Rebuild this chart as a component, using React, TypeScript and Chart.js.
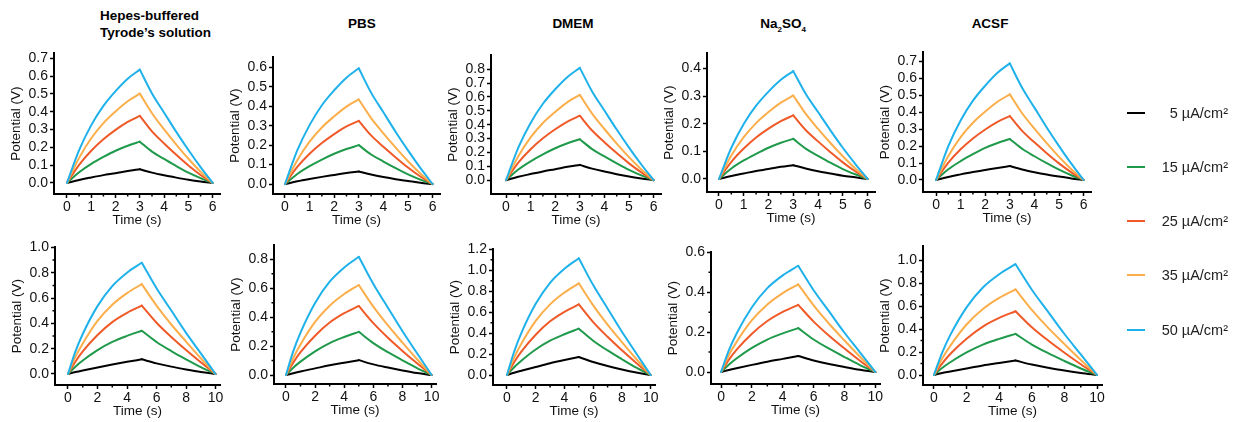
import React, { useEffect, useRef } from 'react';
import { Chart, registerables } from 'chart.js';
Chart.register(...registerables);

const FONT = "'Liberation Sans', Arial, sans-serif";

const seriesLabels = ['5 µA/cm²', '15 µA/cm²', '25 µA/cm²', '35 µA/cm²', '50 µA/cm²'];
const seriesColors = ['#000000', '#1f9a4b', '#f05a28', '#fbae4a', '#1eb1ea'];

const columnTitles = ['Hepes-buffered Tyrode’s solution', 'PBS', 'DMEM', 'Na2SO4', 'ACSF'];

// time axes (s)
const timeShort = [0, 0.5, 1, 1.5, 2, 2.5, 3, 3.5, 4, 4.5, 5, 5.5, 6];
const timeLong = [0, 0.5, 1, 2, 3, 4, 5, 6, 7, 8, 9, 10];

const xTicksShort = [0, 1, 2, 3, 4, 5, 6];
const xMinorShort = [0.5, 1.5, 2.5, 3.5, 4.5, 5.5];
const xTicksLong = [0, 2, 4, 6, 8, 10];
const xMinorLong = [1, 3, 5, 7, 9];

// potentials (V), series order: 5, 15, 25, 35, 50 µA/cm²
const hepesTop = [
  [0, 0.017, 0.031, 0.044, 0.055, 0.067, 0.077, 0.058, 0.043, 0.030, 0.018, 0.008, 0],
  [0, 0.060, 0.107, 0.146, 0.181, 0.209, 0.232, 0.176, 0.135, 0.095, 0.058, 0.027, 0],
  [0, 0.102, 0.181, 0.245, 0.298, 0.343, 0.377, 0.290, 0.222, 0.158, 0.098, 0.045, 0],
  [0, 0.141, 0.251, 0.336, 0.402, 0.459, 0.502, 0.392, 0.301, 0.216, 0.136, 0.063, 0],
  [0, 0.185, 0.325, 0.433, 0.516, 0.586, 0.637, 0.503, 0.395, 0.287, 0.185, 0.089, 0],
];
const pbsTop = [
  [0, 0.014, 0.026, 0.037, 0.047, 0.057, 0.065, 0.049, 0.036, 0.025, 0.016, 0.007, 0],
  [0, 0.052, 0.092, 0.126, 0.156, 0.180, 0.200, 0.152, 0.116, 0.082, 0.050, 0.023, 0],
  [0, 0.088, 0.156, 0.211, 0.257, 0.296, 0.325, 0.250, 0.192, 0.137, 0.085, 0.039, 0],
  [0, 0.122, 0.218, 0.291, 0.348, 0.398, 0.435, 0.339, 0.261, 0.187, 0.117, 0.054, 0],
  [0, 0.173, 0.303, 0.405, 0.482, 0.547, 0.595, 0.470, 0.369, 0.268, 0.173, 0.083, 0],
];
const dmemTop = [
  [0, 0.024, 0.044, 0.063, 0.079, 0.096, 0.110, 0.083, 0.062, 0.043, 0.026, 0.012, 0],
  [0, 0.077, 0.136, 0.186, 0.230, 0.266, 0.295, 0.224, 0.171, 0.121, 0.074, 0.034, 0],
  [0, 0.126, 0.223, 0.302, 0.367, 0.423, 0.465, 0.358, 0.274, 0.195, 0.121, 0.056, 0],
  [0, 0.172, 0.308, 0.412, 0.492, 0.563, 0.615, 0.480, 0.369, 0.264, 0.166, 0.077, 0],
  [0, 0.235, 0.413, 0.551, 0.656, 0.745, 0.810, 0.640, 0.502, 0.365, 0.235, 0.113, 0],
];
const naTop = [
  [0, 0.011, 0.020, 0.029, 0.036, 0.044, 0.050, 0.038, 0.028, 0.020, 0.012, 0.006, 0],
  [0, 0.038, 0.067, 0.091, 0.113, 0.131, 0.145, 0.110, 0.084, 0.059, 0.036, 0.017, 0],
  [0, 0.062, 0.110, 0.150, 0.182, 0.209, 0.230, 0.177, 0.136, 0.097, 0.060, 0.028, 0],
  [0, 0.085, 0.151, 0.202, 0.242, 0.276, 0.302, 0.236, 0.181, 0.130, 0.082, 0.038, 0],
  [0, 0.113, 0.199, 0.265, 0.316, 0.359, 0.390, 0.308, 0.242, 0.176, 0.113, 0.055, 0],
];
const acsfTop = [
  [0, 0.018, 0.033, 0.047, 0.059, 0.071, 0.082, 0.062, 0.046, 0.032, 0.020, 0.009, 0],
  [0, 0.063, 0.111, 0.152, 0.189, 0.218, 0.242, 0.184, 0.140, 0.099, 0.061, 0.028, 0],
  [0, 0.102, 0.181, 0.245, 0.298, 0.343, 0.377, 0.290, 0.222, 0.158, 0.098, 0.045, 0],
  [0, 0.141, 0.253, 0.338, 0.404, 0.462, 0.505, 0.394, 0.303, 0.217, 0.136, 0.063, 0],
  [0, 0.200, 0.351, 0.468, 0.557, 0.633, 0.688, 0.544, 0.427, 0.310, 0.200, 0.096, 0],
];
const hepesBottom = [
  [0, 0.015, 0.028, 0.052, 0.075, 0.096, 0.116, 0.084, 0.058, 0.036, 0.016, 0],
  [0, 0.058, 0.106, 0.188, 0.253, 0.301, 0.342, 0.253, 0.181, 0.116, 0.055, 0],
  [0, 0.097, 0.178, 0.308, 0.410, 0.483, 0.540, 0.405, 0.292, 0.189, 0.092, 0],
  [0, 0.135, 0.241, 0.419, 0.547, 0.639, 0.710, 0.540, 0.391, 0.256, 0.124, 0],
  [0, 0.176, 0.316, 0.536, 0.694, 0.800, 0.879, 0.677, 0.501, 0.325, 0.163, 0],
];
const pbsBottom = [
  [0, 0.013, 0.025, 0.046, 0.067, 0.085, 0.103, 0.074, 0.052, 0.032, 0.014, 0],
  [0, 0.051, 0.093, 0.164, 0.221, 0.263, 0.299, 0.221, 0.158, 0.102, 0.048, 0],
  [0, 0.086, 0.158, 0.272, 0.363, 0.428, 0.478, 0.359, 0.258, 0.167, 0.081, 0],
  [0, 0.118, 0.212, 0.368, 0.480, 0.561, 0.623, 0.473, 0.343, 0.224, 0.109, 0],
  [0, 0.164, 0.294, 0.499, 0.646, 0.744, 0.818, 0.630, 0.466, 0.303, 0.151, 0],
];
const dmemBottom = [
  [0, 0.022, 0.041, 0.077, 0.112, 0.143, 0.172, 0.124, 0.086, 0.053, 0.024, 0],
  [0, 0.075, 0.137, 0.244, 0.328, 0.390, 0.443, 0.328, 0.235, 0.151, 0.071, 0],
  [0, 0.122, 0.223, 0.385, 0.513, 0.604, 0.675, 0.506, 0.365, 0.236, 0.115, 0],
  [0, 0.166, 0.298, 0.517, 0.675, 0.788, 0.876, 0.666, 0.482, 0.315, 0.153, 0],
  [0, 0.223, 0.401, 0.680, 0.881, 1.015, 1.115, 0.859, 0.636, 0.413, 0.206, 0],
];
const naBottom = [
  [0, 0.010, 0.019, 0.036, 0.052, 0.066, 0.080, 0.058, 0.040, 0.025, 0.011, 0],
  [0, 0.037, 0.068, 0.121, 0.163, 0.194, 0.220, 0.163, 0.117, 0.075, 0.035, 0],
  [0, 0.061, 0.111, 0.192, 0.256, 0.302, 0.337, 0.253, 0.182, 0.118, 0.057, 0],
  [0, 0.084, 0.150, 0.260, 0.339, 0.396, 0.440, 0.334, 0.242, 0.158, 0.077, 0],
  [0, 0.107, 0.192, 0.325, 0.421, 0.485, 0.533, 0.410, 0.304, 0.197, 0.099, 0],
];
const acsfBottom = [
  [0, 0.017, 0.030, 0.057, 0.083, 0.105, 0.127, 0.091, 0.064, 0.039, 0.018, 0],
  [0, 0.061, 0.111, 0.197, 0.265, 0.315, 0.358, 0.265, 0.190, 0.122, 0.057, 0],
  [0, 0.100, 0.183, 0.316, 0.422, 0.497, 0.555, 0.416, 0.300, 0.194, 0.094, 0],
  [0, 0.142, 0.254, 0.440, 0.574, 0.671, 0.746, 0.567, 0.410, 0.269, 0.131, 0],
  [0, 0.193, 0.347, 0.589, 0.762, 0.878, 0.965, 0.743, 0.550, 0.357, 0.179, 0],
];

// y tick labels per panel
const yTicks1 = [0, 0.1, 0.2, 0.3, 0.4, 0.5, 0.6, 0.7];
const yTicks2 = [0, 0.1, 0.2, 0.3, 0.4, 0.5, 0.6];
const yTicks3 = [0, 0.1, 0.2, 0.3, 0.4, 0.5, 0.6, 0.7, 0.8];
const yTicks4 = [0, 0.1, 0.2, 0.3, 0.4];
const yTicks5 = [0, 0.1, 0.2, 0.3, 0.4, 0.5, 0.6, 0.7];
const yTicks6 = [0, 0.2, 0.4, 0.6, 0.8, 1.0];
const yTicks7 = [0, 0.2, 0.4, 0.6, 0.8];
const yTicks8 = [0, 0.2, 0.4, 0.6, 0.8, 1.0, 1.2];
const yTicks9 = [0, 0.2, 0.4, 0.6];
const yTicks10 = [0, 0.2, 0.4, 0.6, 0.8, 1.0];
const yMinor6 = [0.1, 0.3, 0.5, 0.7, 0.9];
const yMinor7 = [0.1, 0.3, 0.5, 0.7];
const yMinor8 = [0.1, 0.3, 0.5, 0.7, 0.9, 1.1];
const yMinor9 = [0.1, 0.3, 0.5];
const yMinor10 = [0.1, 0.3, 0.5, 0.7, 0.9];

// axis ranges [xmin, xmax, ymin, ymax]
const ranges = [
  [-0.534, 6.3, -0.062, 0.728],
  [-0.486, 6.3, -0.051, 0.651],
  [-0.61, 6.3, -0.1, 0.9],
  [-0.483, 6.3, -0.047, 0.454],
  [-0.53, 6.3, -0.071, 0.753],
  [-0.88, 10.3, -0.087, 1.0],
  [-0.82, 10.3, -0.062, 0.897],
  [-0.97, 10.3, -0.095, 1.2],
  [-0.65, 10.3, -0.06, 0.6],
  [-0.67, 10.3, -0.087, 1.12],
];

// layout: plot-area boxes [left, top, right, bottom] in page px
const boxes = [
  [54, 53, 220, 194],
  [273, 57, 440, 194],
  [491, 55, 661, 194],
  [707, 53, 875, 192],
  [923, 52, 1091, 192],
  [55, 247, 220, 385],
  [274, 245, 436, 384],
  [493, 249, 655, 385],
  [711, 252, 880, 384],
  [923, 246, 1102, 385],
];

const panels = [
  { time: timeShort, values: hepesTop, xTicks: xTicksShort, xMinor: xMinorShort, yTicks: yTicks1, yMinor: [] as number[] },
  { time: timeShort, values: pbsTop, xTicks: xTicksShort, xMinor: xMinorShort, yTicks: yTicks2, yMinor: [] as number[] },
  { time: timeShort, values: dmemTop, xTicks: xTicksShort, xMinor: xMinorShort, yTicks: yTicks3, yMinor: [] as number[] },
  { time: timeShort, values: naTop, xTicks: xTicksShort, xMinor: xMinorShort, yTicks: yTicks4, yMinor: [] as number[] },
  { time: timeShort, values: acsfTop, xTicks: xTicksShort, xMinor: xMinorShort, yTicks: yTicks5, yMinor: [] as number[] },
  { time: timeLong, values: hepesBottom, xTicks: xTicksLong, xMinor: xMinorLong, yTicks: yTicks6, yMinor: yMinor6 },
  { time: timeLong, values: pbsBottom, xTicks: xTicksLong, xMinor: xMinorLong, yTicks: yTicks7, yMinor: yMinor7 },
  { time: timeLong, values: dmemBottom, xTicks: xTicksLong, xMinor: xMinorLong, yTicks: yTicks8, yMinor: yMinor8 },
  { time: timeLong, values: naBottom, xTicks: xTicksLong, xMinor: xMinorLong, yTicks: yTicks9, yMinor: yMinor9 },
  { time: timeLong, values: acsfBottom, xTicks: xTicksLong, xMinor: xMinorLong, yTicks: yTicks10, yMinor: yMinor10 },
];

const Y_W = 46;
const X_H = 34;
const PAD_T = 10;
const PAD_R = 14;

const minorTickPlugin = {
  id: 'minorTicks',
  afterDraw(chart: any, _args: any, opts: any) {
    const { ctx } = chart;
    const xs = chart.scales.x;
    const ys = chart.scales.y;
    ctx.save();
    ctx.strokeStyle = '#000';
    ctx.lineWidth = 1.5;
    ctx.beginPath();
    (opts.x || []).forEach((v: number) => {
      const p = xs.getPixelForValue(v);
      ctx.moveTo(p, xs.top);
      ctx.lineTo(p, xs.top + 2.5);
    });
    (opts.y || []).forEach((v: number) => {
      const p = ys.getPixelForValue(v);
      ctx.moveTo(ys.right, p);
      ctx.lineTo(ys.right - 2.5, p);
    });
    ctx.stroke();
    ctx.restore();
  },
};

function Panel({ idx }: { idx: number }) {
  const ref = useRef<HTMLCanvasElement>(null);
  const p = panels[idx];
  const [l, t, r, b] = boxes[idx];
  const w = Y_W + (r - l) + PAD_R;
  const h = PAD_T + (b - t) + X_H;
  useEffect(() => {
    const [xmin, xmax, ymin, ymax] = ranges[idx];
    const datasets: any[] = [];
    p.values.forEach((vals, si) => {
      const pts = p.time.map((tt, i) => ({ x: tt, y: vals[i] }));
      let pk = 0;
      vals.forEach((v, i) => { if (v > vals[pk]) pk = i; });
      // charging branch and discharging branch, joined at the peak (kept sharp)
      [pts.slice(0, pk + 1), pts.slice(pk)].forEach((seg, k) => {
        datasets.push({
          label: seriesLabels[si] + (k ? ' discharge' : ' charge'),
          data: seg,
          borderColor: seriesColors[si],
          backgroundColor: seriesColors[si],
          borderWidth: 2,
          borderCapStyle: 'round',
          borderJoinStyle: 'round',
          pointRadius: 0,
          cubicInterpolationMode: 'monotone',
          fill: false,
          order: 5 - si,
        });
      });
    });
    const chart = new Chart(ref.current as HTMLCanvasElement, {
      type: 'line',
      data: { datasets },
      plugins: [minorTickPlugin],
      options: {
        animation: false,
        responsive: false,
        devicePixelRatio: 1,
        layout: { padding: { top: PAD_T, right: PAD_R, left: 0, bottom: 0 } },
        plugins: {
          legend: { display: false },
          tooltip: { enabled: false },
          minorTicks: { x: p.xMinor, y: p.yMinor },
        } as any,
        scales: {
          x: {
            type: 'linear',
            min: xmin,
            max: xmax,
            afterFit: (s: any) => { s.height = X_H; },
            afterBuildTicks: (s: any) => { s.ticks = p.xTicks.map((v) => ({ value: v })); },
            grid: { display: true, drawOnChartArea: false, drawTicks: true, tickLength: 4, tickWidth: 1.5, tickColor: '#000' },
            border: { display: true, color: '#000', width: 2 },
            ticks: {
              color: '#111',
              font: { family: FONT, size: 14 },
              padding: 1,
              maxRotation: 0,
              autoSkip: false,
              callback: (v: any) => String(v),
            },
            title: { display: true, text: 'Time (s)', color: '#111', font: { family: FONT, size: 13.5 }, padding: 0 },
          },
          y: {
            type: 'linear',
            min: ymin,
            max: ymax,
            afterFit: (s: any) => { s.width = Y_W; },
            afterBuildTicks: (s: any) => { s.ticks = p.yTicks.map((v) => ({ value: v })); },
            grid: { display: true, drawOnChartArea: false, drawTicks: true, tickLength: 4, tickWidth: 1.5, tickColor: '#000' },
            border: { display: true, color: '#000', width: 2 },
            ticks: {
              color: '#111',
              font: { family: FONT, size: 14 },
              padding: 2,
              autoSkip: false,
              callback: (v: any) => Number(v).toFixed(1),
            },
            title: { display: true, text: 'Potential (V)', color: '#111', font: { family: FONT, size: 13.5 }, padding: 0 },
          },
        },
      } as any,
    });
    return () => chart.destroy();
  }, []);
  return (
    <canvas
      ref={ref}
      width={w}
      height={h}
      style={{ position: 'absolute', left: l - Y_W, top: t - PAD_T, width: w, height: h }}
    />
  );
}

const titleCenters = [0, 362, 573, 783, 990];
const legendY = [113, 167, 221, 275, 330];

export default function App() {
  const titleStyle: React.CSSProperties = {
    position: 'absolute',
    fontFamily: FONT,
    fontWeight: 'bold',
    fontSize: 13.5,
    lineHeight: '17px',
    color: '#000',
    whiteSpace: 'nowrap',
  };
  return (
    <div style={{ position: 'absolute', left: 0, top: 0, width: 1237, height: 422, background: '#fff', overflow: 'hidden' }}>
      <div style={{ ...titleStyle, left: 100, top: 7 }}>
        Hepes-buffered<br />Tyrode’s solution
      </div>
      {columnTitles.slice(1).map((tt, i) => (
        <div key={tt} style={{ ...titleStyle, left: titleCenters[i + 1] - 60, width: 120, textAlign: 'center', top: 15 }}>
          {tt === 'Na2SO4' ? (
            <span>Na<sub style={{ fontSize: 8 }}>2</sub>SO<sub style={{ fontSize: 8 }}>4</sub></span>
          ) : tt}
        </div>
      ))}
      {panels.map((_, i) => <Panel key={i} idx={i} />)}
      {seriesLabels.map((lab, i) => (
        <React.Fragment key={lab}>
          <div style={{ position: 'absolute', left: 1127, top: legendY[i] - 1, width: 18, height: 2, background: seriesColors[i] }} />
          <div style={{ position: 'absolute', left: 1140, width: 88, top: legendY[i] - 9, lineHeight: '18px', textAlign: 'right', fontFamily: FONT, fontSize: 14.5, color: '#222', whiteSpace: 'nowrap' }}>
            {lab}
          </div>
        </React.Fragment>
      ))}
    </div>
  );
}
